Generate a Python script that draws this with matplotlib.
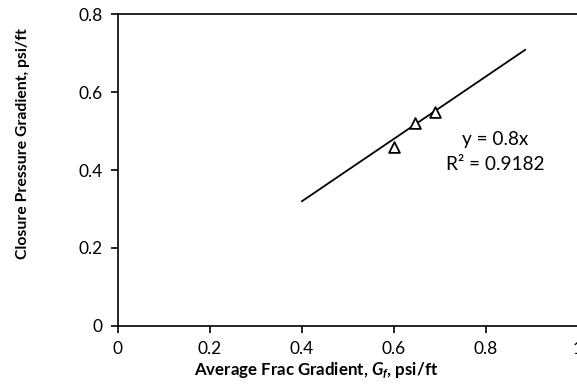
import numpy as np
import matplotlib.pyplot as plt

plt.rcParams['font.family'] = ['Lato', 'DejaVu Sans']
plt.rcParams['mathtext.fontset'] = 'custom'
plt.rcParams['mathtext.it'] = 'Lato:italic:bold'
plt.rcParams['mathtext.rm'] = 'Lato:bold'

frac_grad = np.array([0.60, 0.645, 0.69])
closure_grad = np.array([0.46, 0.52, 0.55])
slope = 0.8
r2 = 0.9182
fit_x = np.array([0.40, 0.885])

fig = plt.figure(figsize=(5.77, 3.88), dpi=100)
ax = fig.add_axes([0.2045, 0.1598, 0.7972, 0.8041])

ax.plot(fit_x, slope * fit_x, color='black', lw=1.3)
ax.scatter(frac_grad, closure_grad, marker='^', s=60, facecolors='white',
           edgecolors='black', linewidths=1.3, zorder=3)

ax.text(0.82, 0.477, f'y = {slope}x', ha='center', va='center', fontsize=13.7)
ax.text(0.82, 0.413, f'R² = {r2}', ha='center', va='center', fontsize=13.7)

ax.set_xlim(0, 1)
ax.set_ylim(0, 0.8)
ax.set_xticks([0, 0.2, 0.4, 0.6, 0.8, 1.0])
ax.set_xticklabels(['0', '0.2', '0.4', '0.6', '0.8', '1'])
ax.set_yticks([0, 0.2, 0.4, 0.6, 0.8])
ax.set_yticklabels(['0', '0.2', '0.4', '0.6', '0.8'])
ax.tick_params(direction='out', length=5, width=1.2, labelsize=12.5, pad=6)

ax.spines['right'].set_visible(False)
for s in ['left', 'bottom', 'top']:
    ax.spines[s].set_linewidth(1.2)

ax.set_xlabel(r'Average Frac Gradient, $G_f$, psi/ft', fontsize=12.2,
              fontweight='bold', va='center')
ax.xaxis.set_label_coords(0.43, -0.144)
ax.set_ylabel('Closure Pressure Gradient, psi/ft', fontsize=11.3,
              fontweight='bold', va='center')
ax.yaxis.set_label_coords(-0.2065, 0.583)

fig.savefig('out.png', dpi=100)
